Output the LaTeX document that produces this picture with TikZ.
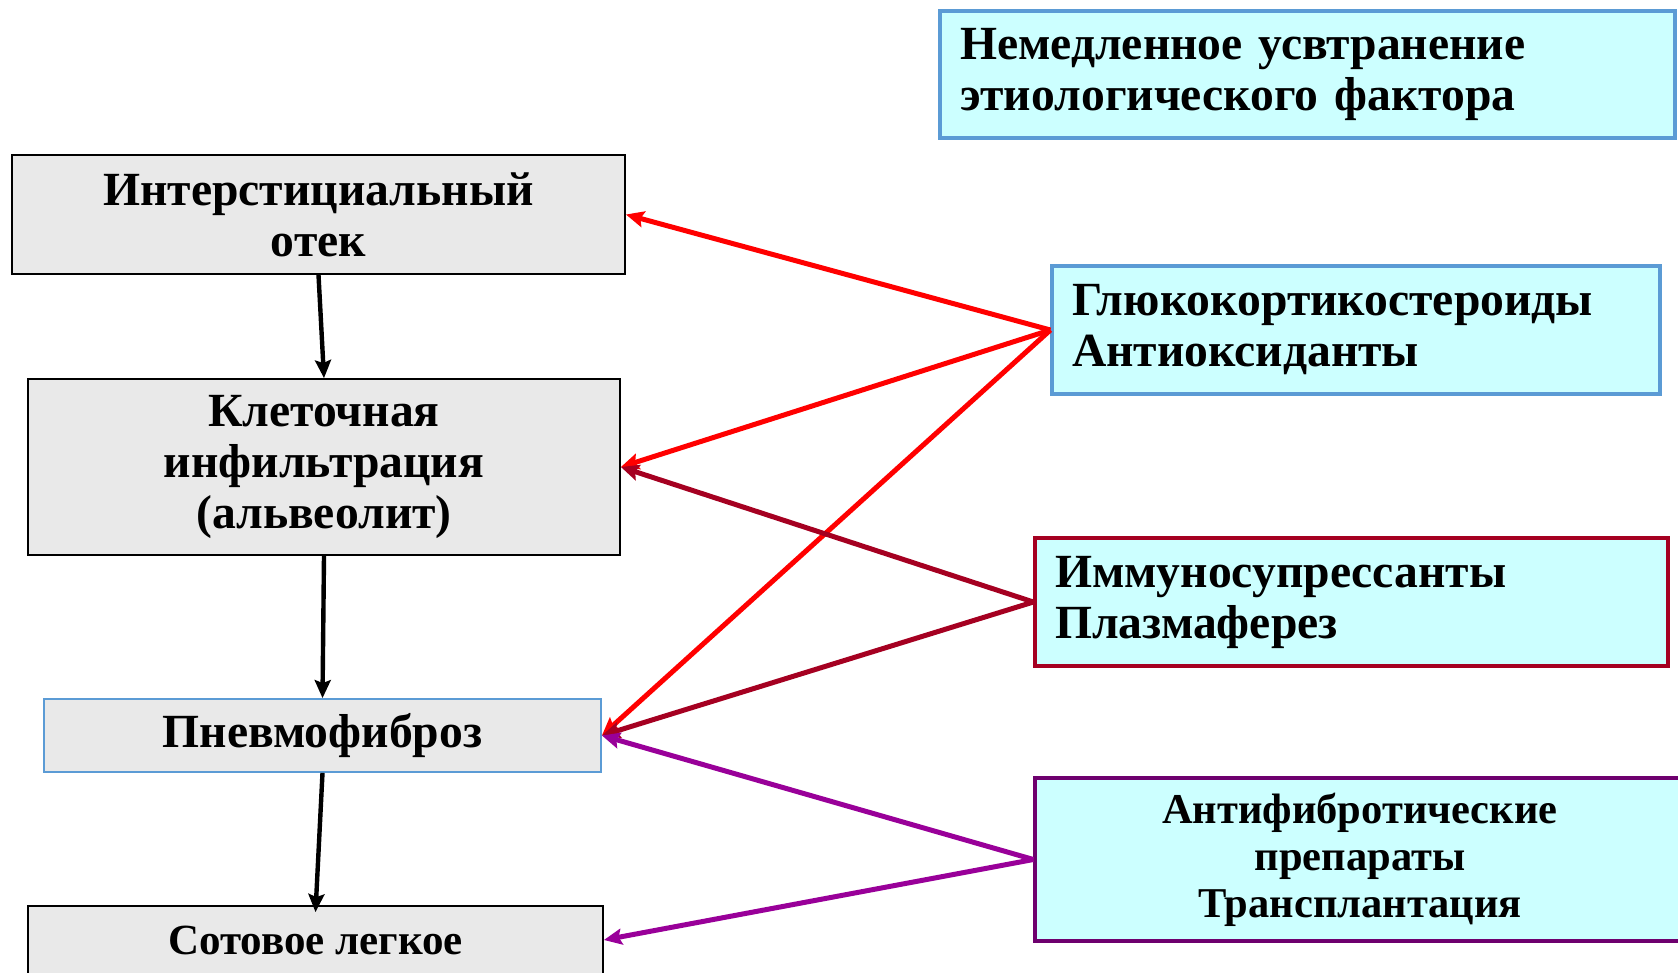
\documentclass[tikz,border=0pt]{standalone}
\usepackage{fontspec}
\setmainfont{Liberation Serif}
\usetikzlibrary{arrows.meta}
\definecolor{lgray}{HTML}{E9E9E9}
\definecolor{cyanfill}{HTML}{CCFFFF}
\definecolor{bblue}{HTML}{5B9BD5}
\definecolor{dred}{HTML}{A50021}
\definecolor{redline}{HTML}{FF0000}
\definecolor{purpline}{HTML}{990099}
\definecolor{purpborder}{HTML}{6E006E}
\tikzset{
  leftbox/.style={draw=black, line width=1.8pt, fill=lgray, inner sep=0pt, align=center,
    font=\bfseries\fontsize{47.6}{51}\selectfont},
  rightbox/.style={fill=cyanfill, line width=3.2pt, inner xsep=20pt, inner ysep=0pt, align=left,
    font=\bfseries\fontsize{47.6}{51}\selectfont},
  flowarrow/.style={draw=black, line width=4.4pt, -{Stealth[length=18pt,width=16pt,inset=3pt]}},
  treatarrow/.style={line width=5pt, -{Stealth[length=18pt,width=16pt,inset=3pt]}},
}
\begin{document}
\begin{tikzpicture}[x=1pt,y=-1pt]
\useasboundingbox (0,0) rectangle (1678,972);
% left boxes
\node[leftbox, minimum width=613pt, minimum height=119pt] (otek) at (318.5,214.5)
  {Интерстициальный\\отек};
\node[leftbox, minimum width=592pt, minimum height=176pt] (infil) at (324,467)
  {Клеточная\\инфильтрация\\(альвеолит)};
\node[leftbox, draw=bblue, minimum width=557pt, minimum height=73pt] (fibr) at (322.5,735.5)
  {Пневмофиброз};
\node[leftbox, minimum width=575pt, minimum height=68pt, font=\bfseries\fontsize{43}{46}\selectfont] (soty) at (315.5,940)
  {Сотовое легкое};
% right boxes
\node[rightbox, draw=bblue, text width=695pt, minimum height=127pt] (etio) at (1307.5,74.5)
  {Немедленное усвтранение\\этиологического фактора};
\node[rightbox, draw=bblue, text width=568pt, minimum height=128pt] (gluco) at (1356,330)
  {Глюкокортикостероиды\\Антиоксиданты};
\node[rightbox, draw=dred, text width=593pt, minimum height=128pt] (immuno) at (1351.5,602)
  {Иммуносупрессанты\\Плазмаферез};
\node[rightbox, draw=purpborder, align=center, text width=610pt, minimum height=163pt,
  font=\bfseries\fontsize{42.5}{47}\selectfont] (antifib) at (1360,859.5)
  {Антифибротические\\препараты\\Трансплантация};
% flow arrows
\draw[flowarrow] (otek.south) -- (infil.north);
\draw[flowarrow] (infil.south) -- (fibr.north);
\draw[flowarrow] (fibr.south) -- ([yshift=-7pt]soty.north);
% treatment arrows
\draw[treatarrow, redline] (gluco.west) -- (otek.east);
\draw[treatarrow, redline] (gluco.west) -- (infil.east);
\draw[treatarrow, redline] (gluco.west) -- (fibr.east);
\draw[treatarrow, dred] (immuno.west) -- (infil.east);
\draw[treatarrow, dred] (immuno.west) -- (fibr.east);
\draw[treatarrow, purpline] (antifib.west) -- (fibr.east);
\draw[treatarrow, purpline] (antifib.west) -- (soty.east);
\end{tikzpicture}
\end{document}
